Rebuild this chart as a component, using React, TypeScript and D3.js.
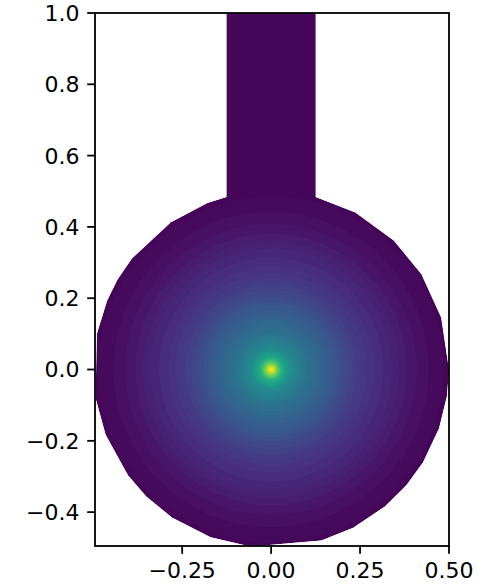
import React, { useEffect, useRef } from 'react'

import * as d3 from 'd3'

// radial profile of the field (radius -> colormap fraction)
const profileRadius = [0, 0.008, 0.015, 0.03, 0.056, 0.11, 0.17, 0.225, 0.28, 0.34, 0.39, 0.45, 0.5]
const profileValue = [1.0, 0.92, 0.8, 0.63, 0.48, 0.36, 0.28, 0.2, 0.14, 0.1, 0.06, 0.03, 0.012]

// mesh boundary vertices (degrees on the r = 0.5 circle)
const circleAngles = [
  0, 17, 32.3, 46.4, 61.7, 75.5, 104.5, 111, 124.3, 141.4, 149.7, 157.1, 168.5,
  189.3, 201.5, 216.4, 225.4, 236.1, 250.1, 263.4, 286.4, 297.5, 309.9, 319.6,
  328.7, 340.8, 351.5,
]
const circleRadius = 0.5
const stemX = [-0.125, 0.125]
const stemY = [0.45, 1.0]
const stemValue = 0.015

const xTicks = [-0.25, 0, 0.25, 0.5]
const xTickLabels = ['\u22120.25', '0.00', '0.25', '0.50']
const yTicks = [-0.4, -0.2, 0, 0.2, 0.4, 0.6, 0.8, 1.0]
const yTickLabels = ['\u22120.4', '\u22120.2', '0.0', '0.2', '0.4', '0.6', '0.8', '1.0']

const App = () => {
  const svgRef = useRef(null)

  useEffect(() => {
    if (!svgRef.current) return

    const w = 489
    const h = 587
    const margin = { top: 13, right: 40, bottom: 41, left: 95 }
    const nLevels = 60
    const fontSize = 22
    const tickLen = 7.8
    const lw = 1.8

    const x = d3.scaleLinear([-0.495, 0.5], [margin.left, w - margin.right])
    const y = d3.scaleLinear([-0.495, 1.0], [h - margin.bottom, margin.top])
    const color = d3.scaleSequential(d3.interpolateViridis).domain([0, 1])
    const radial = d3.scaleLinear().domain(profileRadius).range(profileValue)
    const px = x(1) - x(0)

    const svg = d3
      .select(svgRef.current)
      .attr('width', w)
      .attr('height', h)
      .attr('viewBox', [0, 0, w, h])
      .style('position', 'absolute')
      .style('left', 0)
      .style('top', 0)
      .style('background', '#fff')

    const defs = svg.append('defs')
    defs
      .append('clipPath')
      .attr('id', 'axes-clip')
      .append('rect')
      .attr('x', margin.left)
      .attr('y', margin.top)
      .attr('width', w - margin.left - margin.right)
      .attr('height', h - margin.top - margin.bottom)

    const poly = circleAngles.map((a) => {
      const t = (a * Math.PI) / 180
      return [x(circleRadius * Math.cos(t)), y(circleRadius * Math.sin(t))] as [number, number]
    })
    const polyPath = d3.line()(poly) + 'Z'
    defs.append('clipPath').attr('id', 'disk-clip').append('path').attr('d', polyPath)

    const plot = svg.append('g').attr('clip-path', 'url(#axes-clip)')

    // stem
    plot
      .append('rect')
      .attr('x', x(stemX[0]))
      .attr('y', y(stemY[1]))
      .attr('width', x(stemX[1]) - x(stemX[0]))
      .attr('height', y(stemY[0]) - y(stemY[1]))
      .attr('fill', color(stemValue))

    // disk: base fill then filled contour bands
    const disk = plot.append('g').attr('clip-path', 'url(#disk-clip)')
    disk.append('path').attr('d', polyPath).attr('fill', color(profileValue[profileValue.length - 1]))

    const levels = d3.range(nLevels).map((i) => i / nLevels)
    levels.forEach((lv) => {
      if (lv <= profileValue[profileValue.length - 1]) return
      const r = radial.invert(lv)
      disk
        .append('circle')
        .attr('cx', x(0))
        .attr('cy', y(0))
        .attr('r', Math.max(r * px, 0.6))
        .attr('fill', color(lv + 0.5 / nLevels))
    })

    // spines
    svg
      .append('rect')
      .attr('x', margin.left)
      .attr('y', margin.top)
      .attr('width', w - margin.left - margin.right)
      .attr('height', h - margin.top - margin.bottom)
      .attr('fill', 'none')
      .attr('stroke', '#000')
      .attr('stroke-width', lw)

    const font = 'DejaVu Sans, sans-serif'

    const xg = svg.append('g')
    xTicks.forEach((t, i) => {
      xg.append('line')
        .attr('x1', x(t)).attr('x2', x(t))
        .attr('y1', h - margin.bottom).attr('y2', h - margin.bottom + tickLen)
        .attr('stroke', '#000').attr('stroke-width', lw)
      xg.append('text')
        .attr('x', x(t))
        .attr('y', h - margin.bottom + tickLen + 7.8 + fontSize * 0.76)
        .attr('text-anchor', 'middle')
        .attr('font-family', font)
        .attr('font-size', fontSize)
        .attr('fill', '#000')
        .text(xTickLabels[i])
    })

    const yg = svg.append('g')
    yTicks.forEach((t, i) => {
      yg.append('line')
        .attr('x1', margin.left - tickLen).attr('x2', margin.left)
        .attr('y1', y(t)).attr('y2', y(t))
        .attr('stroke', '#000').attr('stroke-width', lw)
      yg.append('text')
        .attr('x', margin.left - tickLen - 7.8)
        .attr('y', y(t))
        .attr('dy', '0.36em')
        .attr('text-anchor', 'end')
        .attr('font-family', font)
        .attr('font-size', fontSize)
        .attr('fill', '#000')
        .text(yTickLabels[i])
    })

    return () => {
      svg.selectAll('*').remove()
    }
  }, [])

  return <svg ref={svgRef} />
}

export default App
